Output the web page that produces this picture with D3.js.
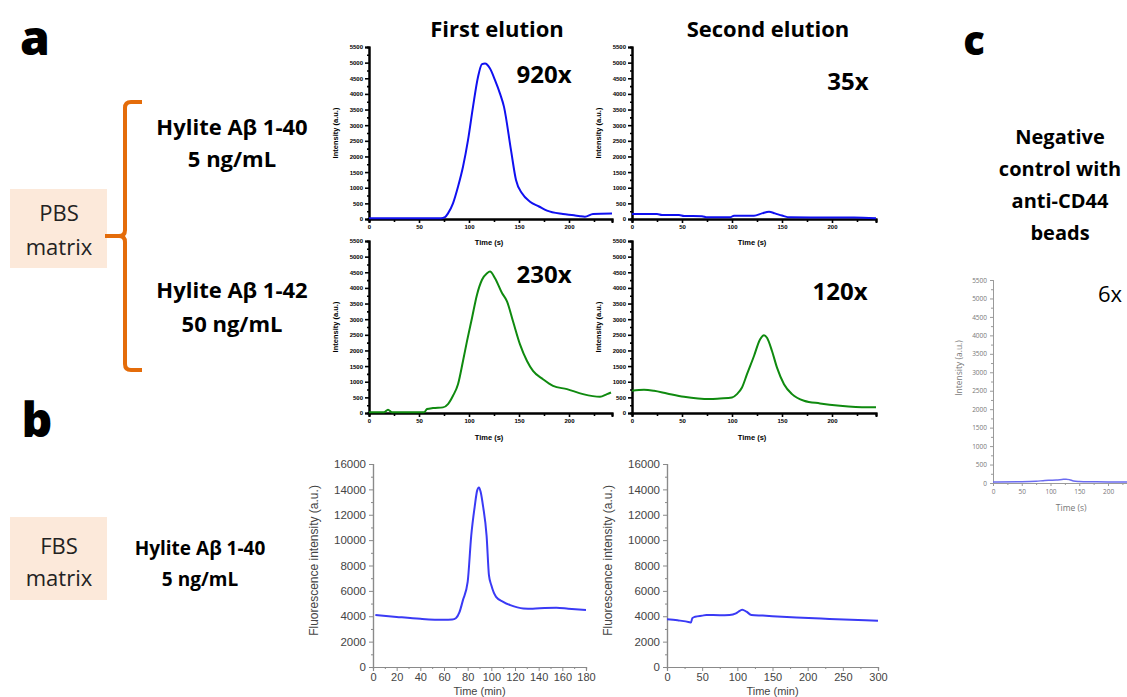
<!DOCTYPE html>
<html><head><meta charset="utf-8">
<script src="https://cdn.jsdelivr.net/npm/d3@7"></script>
<style>body{margin:0;background:#fff;} svg{display:block;}</style>
</head><body>
<script>
// ---------- DATA ----------
// Panel a, Hylite Aβ 1-40 (5 ng/mL), first elution
const a1Time = [0, 40, 72, 76, 79, 84, 89, 94, 99, 104, 109, 113, 116, 121, 126, 131, 135, 142, 147, 153, 161, 170, 178, 194, 205, 211, 216, 224, 243];
const a1Int  = [25, 25, 25, 60, 180, 500, 1030, 1670, 2520, 3585, 4540, 4950, 4970, 4810, 4440, 4010, 3585, 2200, 1245, 820, 553, 400, 266, 160, 120, 90, 75, 160, 175];
// Panel a, Hylite Aβ 1-40, second elution
const a2Time = [0, 25, 30, 47, 52, 70, 75, 98, 102, 122, 130, 137, 143, 150, 158, 200, 222, 244];
const a2Int  = [160, 160, 128, 128, 96, 90, 53, 53, 106, 106, 180, 234, 180, 110, 53, 50, 45, 25];
// Panel a, Hylite Aβ 1-42 (50 ng/mL), first elution
const a3Time = [0, 15, 19, 23, 55, 58, 64, 74, 79, 84, 89, 94, 98, 103, 108, 113, 118, 121, 126, 133, 138, 144, 151, 158, 164, 174, 184, 198, 214, 231, 238, 242];
const a3Int  = [21, 21, 100, 21, 21, 127, 160, 180, 286, 551, 922, 1664, 2300, 3040, 3783, 4260, 4470, 4525, 4310, 3836, 3570, 2935, 2194, 1664, 1346, 1081, 869, 763, 604, 519, 604, 657];
// Panel a, Hylite Aβ 1-42, second elution
const a4Time = [0, 12, 22, 35, 52, 78, 88, 100, 105, 110, 115, 122, 128, 132, 135, 140, 145, 152, 160, 172, 188, 208, 235, 244];
const a4Int  = [710, 742, 710, 625, 519, 445, 466, 498, 604, 816, 1240, 1823, 2353, 2490, 2405, 1982, 1452, 922, 604, 392, 307, 233, 180, 180];
const aIntTicks = [0, 500, 1000, 1500, 2000, 2500, 3000, 3500, 4000, 4500, 5000, 5500];
const aTimeTicks = [0, 50, 100, 150, 200];

// Panel b, FBS matrix, first elution
const b1Time = [2, 20, 40, 60, 67, 70, 73, 76, 80, 83, 86, 88, 89.5, 91, 93, 96, 98, 100, 104, 110, 116, 122, 127, 135, 145, 155, 165, 180];
const b1Int  = [4100, 3950, 3800, 3720, 3740, 3840, 4300, 5270, 6700, 10340, 12680, 13900, 14150, 13800, 12680, 10340, 7220, 6440, 5530, 5140, 4880, 4700, 4620, 4600, 4650, 4670, 4600, 4490];
// Panel b, second elution
const b2Time = [0, 15, 32, 34, 36, 40, 50, 56, 75, 89, 98, 104, 107, 113, 120, 136, 184, 231, 300];
const b2Int  = [3770, 3680, 3530, 3500, 3850, 3960, 4050, 4100, 4080, 4100, 4230, 4450, 4520, 4360, 4100, 4050, 3900, 3790, 3640];
const bIntTicks = [0, 2000, 4000, 6000, 8000, 10000, 12000, 14000, 16000];
const b1TimeTicks = [0, 20, 40, 60, 80, 100, 120, 140, 160, 180];
const b2TimeTicks = [0, 50, 100, 150, 200, 250, 300];

// Panel c, negative control with anti-CD44 beads
const cTime = [0, 50, 75, 90, 100, 110, 120, 127, 133, 140, 150, 165, 200, 233];
const cInt  = [30, 35, 45, 70, 75, 80, 95, 105, 90, 55, 40, 32, 30, 30];
const cIntTicks = [0, 500, 1000, 1500, 2000, 2500, 3000, 3500, 4000, 4500, 5000, 5500];
const cTimeTicks = [0, 50, 100, 150, 200];

const folds = ["920x", "35x", "230x", "120x", "6x"];

// ---------- DRAW ----------
const W = 1127, H = 697;
const svg = d3.select("body").append("svg").attr("width", W).attr("height", H);
const mainFont = "'Open Sans', Lato, sans-serif";
const fmt = d3.format("d");

function zip(t, v) { return t.map((d, i) => [d, v[i]]); }

function drawLine(g, x, y, t, v, color, w) {
  g.append("path").datum(zip(t, v))
    .attr("fill", "none").attr("stroke", color).attr("stroke-width", w)
    .attr("stroke-linejoin", "round")
    .attr("d", d3.line().x(d => x(d[0])).y(d => y(d[1])).curve(d3.curveMonotoneX));
}

// panel a small chart
function panelA(x0, x1, y0, y1, tMax, t, v, color, xlabelY) {
  const x = d3.scaleLinear().domain([0, tMax]).range([x0, x1]);
  const y = d3.scaleLinear().domain([0, 5500]).range([y0, y1]);
  const g = svg.append("g");
  const gyMinor = g.append("g").attr("transform", `translate(${x0},0)`)
    .call(d3.axisLeft(y).tickValues(d3.range(250, 5500, 500)).tickSize(2).tickFormat(""));
  const gxMinor = g.append("g").attr("transform", `translate(0,${y0})`)
    .call(d3.axisBottom(x).tickValues(d3.range(25, tMax, 50)).tickSize(3).tickFormat(""));
  const gy = g.append("g").attr("transform", `translate(${x0},0)`)
    .call(d3.axisLeft(y).tickValues(aIntTicks).tickSize(4).tickPadding(2).tickFormat(fmt));
  const gx = g.append("g").attr("transform", `translate(0,${y0})`)
    .call(d3.axisBottom(x).tickValues(aTimeTicks).tickSize(4).tickPadding(2).tickFormat(fmt));
  [gy, gx, gyMinor, gxMinor].forEach(a => {
    a.select(".domain").attr("stroke", "#000").attr("stroke-width", 2);
    a.selectAll(".tick line").attr("stroke", "#000").attr("stroke-width", 1.6);
    a.selectAll("text").attr("font-family", "'Liberation Sans', Arial, sans-serif")
      .attr("font-weight", "bold").attr("font-size", 6).attr("fill", "#000");
  });
  g.append("text").attr("transform", `translate(${x0 - 31},${(y0 + y1) / 2}) rotate(-90)`)
    .attr("text-anchor", "middle").attr("font-family", "'Liberation Sans', Arial, sans-serif")
    .attr("font-weight", "bold").attr("font-size", 7.5).text("Intensity (a.u.)");
  g.append("text").attr("x", x(120)).attr("y", xlabelY)
    .attr("text-anchor", "middle").attr("font-family", "'Liberation Sans', Arial, sans-serif")
    .attr("font-weight", "bold").attr("font-size", 7.5).text("Time (s)");
  drawLine(g, x, y, t, v, color, 2);
  return g;
}

panelA(369, 612, 219, 47, 243, a1Time, a1Int, "#1010f0", 245);
panelA(632, 876, 219, 47, 244, a2Time, a2Int, "#1010f0", 245);
panelA(369, 612, 413, 241, 243, a3Time, a3Int, "#0f8a0f", 440);
panelA(632, 876, 413, 241, 244, a4Time, a4Int, "#0f8a0f", 440);

// panel b charts
function panelB(x0, x1, tMax, ticks, minorStep, t, v) {
  const y0 = 667, y1 = 464;
  const x = d3.scaleLinear().domain([0, tMax]).range([x0, x1]);
  const y = d3.scaleLinear().domain([0, 16000]).range([y0, y1]);
  const g = svg.append("g");
  const gyMinor = g.append("g").attr("transform", `translate(${x0},0)`)
    .call(d3.axisLeft(y).tickValues(d3.range(1000, 16000, 2000)).tickSize(2).tickFormat(""));
  const gxMinor = g.append("g").attr("transform", `translate(0,${y0})`)
    .call(d3.axisBottom(x).tickValues(d3.range(minorStep, tMax, minorStep * 2)).tickSize(2).tickFormat(""));
  const gy = g.append("g").attr("transform", `translate(${x0},0)`)
    .call(d3.axisLeft(y).tickValues(bIntTicks).tickSize(4).tickPadding(3).tickFormat(fmt));
  const gx = g.append("g").attr("transform", `translate(0,${y0})`)
    .call(d3.axisBottom(x).tickValues(ticks).tickSize(4).tickPadding(2).tickFormat(fmt));
  [gy, gx, gyMinor, gxMinor].forEach(a => {
    a.select(".domain").attr("stroke", "#8a8a8a").attr("stroke-width", 1.2);
    a.selectAll(".tick line").attr("stroke", "#8a8a8a");
    a.selectAll("text").attr("font-family", "'Liberation Sans', Arial, sans-serif")
      .attr("font-size", 11.5).attr("fill", "#444");
  });
  gx.selectAll("text").attr("font-size", 11);
  g.append("text").attr("transform", `translate(${x0 - 55},${(y0 + y1) / 2 - 5}) rotate(-90)`)
    .attr("text-anchor", "middle").attr("font-family", "'Liberation Sans Narrow', 'Liberation Sans', Arial, sans-serif")
    .attr("font-size", 12).attr("fill", "#444").text("Fluorescence intensity (a.u.)");
  g.append("text").attr("x", (x0 + x1) / 2).attr("y", 694.5)
    .attr("text-anchor", "middle").attr("font-family", "'Liberation Sans', Arial, sans-serif")
    .attr("font-size", 11).attr("fill", "#444").text("Time (min)");
  drawLine(g, x, y, t, v, "#3a3af5", 2);
}
panelB(373, 586, 180, b1TimeTicks, 10, b1Time, b1Int);
panelB(667, 878, 300, b2TimeTicks, 25, b2Time, b2Int);

// panel c chart
(function () {
  const x0 = 993, x1 = 1127, y0 = 483, y1 = 280;
  const x = d3.scaleLinear().domain([0, 233]).range([x0, x1]);
  const y = d3.scaleLinear().domain([0, 5500]).range([y0, y1]);
  const g = svg.append("g");
  const gyMinor = g.append("g").attr("transform", `translate(${x0},0)`)
    .call(d3.axisLeft(y).tickValues(d3.range(250, 5500, 500)).tickSize(2).tickFormat(""));
  const gxMinor = g.append("g").attr("transform", `translate(0,${y0})`)
    .call(d3.axisBottom(x).tickValues(d3.range(25, 233, 50)).tickSize(2).tickFormat(""));
  const gy = g.append("g").attr("transform", `translate(${x0},0)`)
    .call(d3.axisLeft(y).tickValues(cIntTicks).tickSize(3).tickPadding(3).tickFormat(fmt));
  const gx = g.append("g").attr("transform", `translate(0,${y0})`)
    .call(d3.axisBottom(x).tickValues(cTimeTicks).tickSize(3).tickPadding(3).tickFormat(fmt));
  [gy, gx, gyMinor, gxMinor].forEach(a => {
    a.select(".domain").attr("stroke", "#9a9a9a").attr("stroke-width", 1);
    a.selectAll(".tick line").attr("stroke", "#9a9a9a");
    a.selectAll("text").attr("font-family", "'Open Sans', sans-serif")
      .attr("font-size", 6.5).attr("fill", "#777");
  });
  g.append("text").attr("transform", `translate(${x0 - 31},368) rotate(-90)`)
    .attr("text-anchor", "middle").attr("font-family", "'Open Sans', sans-serif")
    .attr("font-size", 8.5).attr("fill", "#777").text("Intensity (a.u.)");
  g.append("text").attr("x", x(136)).attr("y", 511)
    .attr("text-anchor", "middle").attr("font-family", "'Open Sans', sans-serif")
    .attr("font-size", 8.5).attr("fill", "#777").text("Time (s)");
  drawLine(g, x, y, cTime, cInt, "#6b6bf0", 1.5);
})();

// ---------- TEXT / ANNOTATIONS ----------
function txt(x, y, s, size, weight, anchor, fill) {
  return svg.append("text").attr("x", x).attr("y", y).attr("font-family", mainFont)
    .attr("font-size", size).attr("font-weight", weight || "bold")
    .attr("text-anchor", anchor || "middle").attr("fill", fill || "#000").text(s);
}
txt(35, 55, "a", 48, 800);
txt(37, 437, "b", 48, 800);
txt(974, 55, "c", 40, 800);

txt(497, 37, "First elution", 22, 700);
txt(768, 37, "Second elution", 22, 700);

txt(544, 83, folds[0], 24, 700);
txt(848, 90, folds[1], 24, 700);
txt(544, 283, folds[2], 24, 700);
txt(840, 300, folds[3], 24, 700);
txt(1110, 302, folds[4], 22, 400);

["Negative", "control with", "anti-CD44", "beads"].forEach((s, i) => txt(1060, 144 + i * 32, s, 20, 700));

txt(232, 135, "Hylite Aβ 1-40", 22, 700);
txt(232, 167, "5 ng/mL", 22, 700);
txt(232, 298, "Hylite Aβ 1-42", 22, 700);
txt(232, 332, "50 ng/mL", 22, 700);
txt(200, 555, "Hylite Aβ 1-40", 19, 700);
txt(200, 586, "5 ng/mL", 19, 700);

// PBS / FBS boxes
svg.append("rect").attr("x", 10).attr("y", 189).attr("width", 97).attr("height", 79).attr("fill", "#fce9da");
txt(59, 221, "PBS", 22, 400, "middle", "#222");
txt(59, 255, "matrix", 22, 400, "middle", "#222");
svg.append("rect").attr("x", 10).attr("y", 517).attr("width", 97).attr("height", 83).attr("fill", "#fce9da");
txt(59, 554, "FBS", 22, 400, "middle", "#222");
txt(59, 586, "matrix", 22, 400, "middle", "#222");

// orange bracket
const br = d3.path();
br.moveTo(142, 102); br.lineTo(131, 102); br.quadraticCurveTo(125, 102, 125, 108);
br.lineTo(125, 230); br.quadraticCurveTo(125, 236, 119, 236); br.lineTo(105, 236);
br.moveTo(119, 236); br.quadraticCurveTo(125, 236, 125, 242);
br.lineTo(125, 364); br.quadraticCurveTo(125, 370, 131, 370); br.lineTo(142, 370);
svg.append("path").attr("d", br.toString()).attr("fill", "none")
  .attr("stroke", "#e46c0a").attr("stroke-width", 4);
</script>
</body></html>
